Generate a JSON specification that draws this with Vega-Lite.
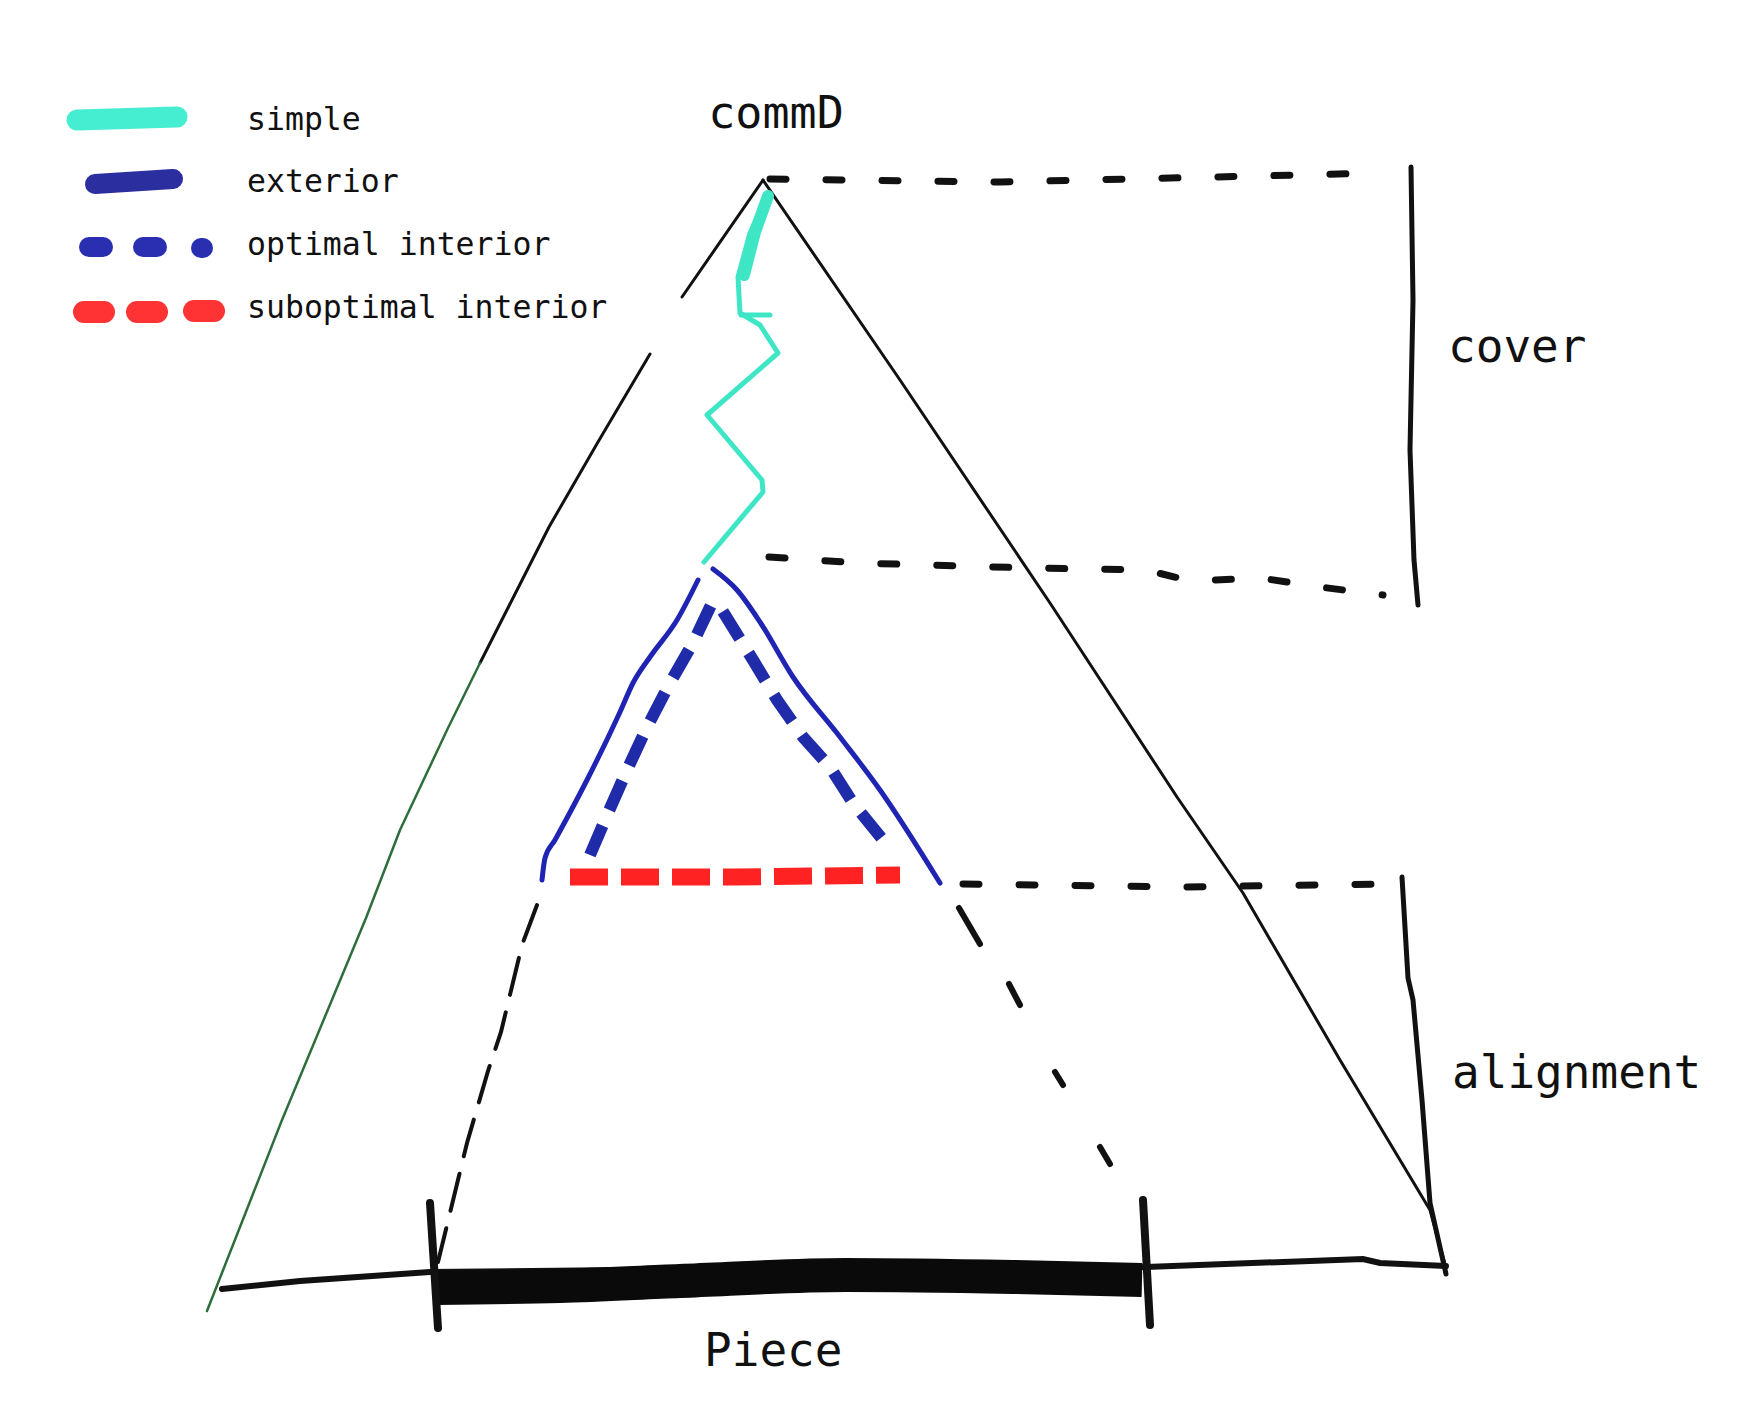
{
  "$schema": "https://vega.github.io/schema/vega-lite/v6.json",
  "width": 1747,
  "height": 1401,
  "autosize": {"type": "fit", "contains": "padding"},
  "padding": 0,
  "background": "white",
  "config": {"view": {"stroke": null}},
  "datasets": {
    "thin": [
      {"s": "left_upper", "i": 0, "x": 763, "y": 180},
      {"s": "left_upper", "i": 1, "x": 682, "y": 297},
      {"s": "left_mid", "i": 0, "x": 650, "y": 354},
      {"s": "left_mid", "i": 1, "x": 598, "y": 442},
      {"s": "left_mid", "i": 2, "x": 549, "y": 527},
      {"s": "left_mid", "i": 3, "x": 480, "y": 663},
      {"s": "right", "i": 0, "x": 763, "y": 180},
      {"s": "right", "i": 1, "x": 900, "y": 380},
      {"s": "right", "i": 2, "x": 1050, "y": 603},
      {"s": "right", "i": 3, "x": 1177, "y": 797},
      {"s": "right", "i": 4, "x": 1243, "y": 893},
      {"s": "right", "i": 5, "x": 1340, "y": 1060},
      {"s": "right", "i": 6, "x": 1430, "y": 1210},
      {"s": "right", "i": 7, "x": 1446, "y": 1268}
    ],
    "green": [
      {"s": "left_low", "i": 0, "x": 480, "y": 663},
      {"s": "left_low", "i": 1, "x": 448, "y": 728},
      {"s": "left_low", "i": 2, "x": 400, "y": 830},
      {"s": "left_low", "i": 3, "x": 366, "y": 918},
      {"s": "left_low", "i": 4, "x": 282, "y": 1120},
      {"s": "left_low", "i": 5, "x": 207, "y": 1311}
    ],
    "bottom": [
      {"s": "b", "i": 0, "x": 222, "y": 1289},
      {"s": "b", "i": 1, "x": 300, "y": 1281},
      {"s": "b", "i": 2, "x": 430, "y": 1272},
      {"s": "b", "i": 3, "x": 800, "y": 1268},
      {"s": "b", "i": 4, "x": 1146, "y": 1267},
      {"s": "b", "i": 5, "x": 1363, "y": 1259},
      {"s": "b", "i": 6, "x": 1380, "y": 1263},
      {"s": "b", "i": 7, "x": 1446, "y": 1266}
    ],
    "piece": [
      {"s": "p", "i": 0, "x": 436, "y": 1288},
      {"s": "p", "i": 1, "x": 560, "y": 1286},
      {"s": "p", "i": 2, "x": 680, "y": 1281},
      {"s": "p", "i": 3, "x": 846, "y": 1275},
      {"s": "p", "i": 4, "x": 1013, "y": 1277},
      {"s": "p", "i": 5, "x": 1142, "y": 1280}
    ],
    "ticks": [
      {"s": "tl", "i": 0, "x": 430, "y": 1203},
      {"s": "tl", "i": 1, "x": 438, "y": 1328},
      {"s": "tr", "i": 0, "x": 1143, "y": 1200},
      {"s": "tr", "i": 1, "x": 1150, "y": 1325}
    ],
    "brackets": [
      {"s": "cover", "i": 0, "x": 1411, "y": 167},
      {"s": "cover", "i": 1, "x": 1413, "y": 300},
      {"s": "cover", "i": 2, "x": 1410, "y": 450},
      {"s": "cover", "i": 3, "x": 1414, "y": 560},
      {"s": "cover", "i": 4, "x": 1418, "y": 605},
      {"s": "align", "i": 0, "x": 1402, "y": 877},
      {"s": "align", "i": 1, "x": 1408, "y": 978},
      {"s": "align", "i": 2, "x": 1413, "y": 1000},
      {"s": "align", "i": 3, "x": 1422, "y": 1100},
      {"s": "align", "i": 4, "x": 1430, "y": 1203},
      {"s": "align", "i": 5, "x": 1446, "y": 1274}
    ],
    "dash_h": [
      {"s": "top", "i": 0, "x": 770, "y": 179},
      {"s": "top", "i": 1, "x": 1000, "y": 182},
      {"s": "top", "i": 2, "x": 1383, "y": 173},
      {"s": "mid", "i": 0, "x": 769, "y": 557},
      {"s": "mid", "i": 1, "x": 859, "y": 563},
      {"s": "mid", "i": 2, "x": 1031, "y": 568},
      {"s": "mid", "i": 3, "x": 1146, "y": 570},
      {"s": "mid", "i": 4, "x": 1191, "y": 581},
      {"s": "mid", "i": 5, "x": 1261, "y": 578},
      {"s": "mid", "i": 6, "x": 1312, "y": 586},
      {"s": "mid", "i": 7, "x": 1383, "y": 595},
      {"s": "low", "i": 0, "x": 963, "y": 884},
      {"s": "low", "i": 1, "x": 1180, "y": 887},
      {"s": "low", "i": 2, "x": 1384, "y": 884}
    ],
    "dash_l": [
      {"s": "dl", "i": 0, "x": 537, "y": 905},
      {"s": "dl", "i": 1, "x": 522, "y": 945},
      {"s": "dl", "i": 2, "x": 501, "y": 1032},
      {"s": "dl", "i": 3, "x": 488, "y": 1071},
      {"s": "dl", "i": 4, "x": 467, "y": 1143},
      {"s": "dl", "i": 5, "x": 438, "y": 1262}
    ],
    "dash_r": [
      {"s": "d1", "i": 0, "x": 959, "y": 908},
      {"s": "d1", "i": 1, "x": 980, "y": 944},
      {"s": "d2", "i": 0, "x": 1009, "y": 984},
      {"s": "d2", "i": 1, "x": 1020, "y": 1005},
      {"s": "d3", "i": 0, "x": 1055, "y": 1072},
      {"s": "d3", "i": 1, "x": 1063, "y": 1085},
      {"s": "d4", "i": 0, "x": 1100, "y": 1147},
      {"s": "d4", "i": 1, "x": 1110, "y": 1164}
    ],
    "cyan_thick": [
      {"s": "ct", "i": 0, "x": 768, "y": 196},
      {"s": "ct", "i": 1, "x": 755, "y": 232},
      {"s": "ct", "i": 2, "x": 744, "y": 275}
    ],
    "cyan": [
      {"s": "c", "i": 0, "x": 767, "y": 197},
      {"s": "c", "i": 1, "x": 750, "y": 233},
      {"s": "c", "i": 2, "x": 738, "y": 277},
      {"s": "c", "i": 3, "x": 740, "y": 313},
      {"s": "c", "i": 4, "x": 760, "y": 325},
      {"s": "c", "i": 5, "x": 778, "y": 353},
      {"s": "c", "i": 6, "x": 707, "y": 415},
      {"s": "c", "i": 7, "x": 762, "y": 480},
      {"s": "c", "i": 8, "x": 763, "y": 492},
      {"s": "c", "i": 9, "x": 704, "y": 562},
      {"s": "stub", "i": 0, "x": 741, "y": 315},
      {"s": "stub", "i": 1, "x": 770, "y": 315}
    ],
    "ext": [
      {"s": "l", "i": 0, "x": 542, "y": 880},
      {"s": "l", "i": 1, "x": 545, "y": 858},
      {"s": "l", "i": 2, "x": 555, "y": 840},
      {"s": "l", "i": 3, "x": 587, "y": 780},
      {"s": "l", "i": 4, "x": 620, "y": 712},
      {"s": "l", "i": 5, "x": 633, "y": 683},
      {"s": "l", "i": 6, "x": 650, "y": 657},
      {"s": "l", "i": 7, "x": 677, "y": 620},
      {"s": "l", "i": 8, "x": 698, "y": 580},
      {"s": "r", "i": 0, "x": 713, "y": 569},
      {"s": "r", "i": 1, "x": 737, "y": 590},
      {"s": "r", "i": 2, "x": 760, "y": 622},
      {"s": "r", "i": 3, "x": 793, "y": 677},
      {"s": "r", "i": 4, "x": 840, "y": 737},
      {"s": "r", "i": 5, "x": 880, "y": 790},
      {"s": "r", "i": 6, "x": 940, "y": 883}
    ],
    "opt": [
      {"s": "o", "i": 0, "x": 590, "y": 855},
      {"s": "o", "i": 1, "x": 608, "y": 813},
      {"s": "o", "i": 2, "x": 627, "y": 770},
      {"s": "o", "i": 3, "x": 647, "y": 727},
      {"s": "o", "i": 4, "x": 670, "y": 683},
      {"s": "o", "i": 5, "x": 693, "y": 643},
      {"s": "o", "i": 6, "x": 712, "y": 603},
      {"s": "o", "i": 7, "x": 722, "y": 610},
      {"s": "o", "i": 8, "x": 753, "y": 660},
      {"s": "o", "i": 9, "x": 777, "y": 700},
      {"s": "o", "i": 10, "x": 803, "y": 737},
      {"s": "o", "i": 11, "x": 830, "y": 767},
      {"s": "o", "i": 12, "x": 853, "y": 803},
      {"s": "o", "i": 13, "x": 887, "y": 845}
    ],
    "sub": [
      {"s": "r", "i": 0, "x": 570, "y": 877},
      {"s": "r", "i": 1, "x": 735, "y": 877},
      {"s": "r", "i": 2, "x": 900, "y": 875}
    ],
    "leg_simple": [
      {"s": "a", "i": 0, "x": 77, "y": 120},
      {"s": "a", "i": 1, "x": 177, "y": 117}
    ],
    "leg_ext": [
      {"s": "a", "i": 0, "x": 95, "y": 184},
      {"s": "a", "i": 1, "x": 173, "y": 179}
    ],
    "leg_opt": [
      {"s": "a", "i": 0, "x": 89, "y": 247},
      {"s": "a", "i": 1, "x": 103, "y": 247},
      {"s": "b", "i": 0, "x": 143, "y": 247},
      {"s": "b", "i": 1, "x": 157, "y": 247},
      {"s": "c", "i": 0, "x": 201, "y": 248},
      {"s": "c", "i": 1, "x": 203, "y": 248}
    ],
    "leg_sub": [
      {"s": "a", "i": 0, "x": 84, "y": 312},
      {"s": "a", "i": 1, "x": 104, "y": 312},
      {"s": "b", "i": 0, "x": 137, "y": 312},
      {"s": "b", "i": 1, "x": 157, "y": 312},
      {"s": "c", "i": 0, "x": 194, "y": 311},
      {"s": "c", "i": 1, "x": 214, "y": 311}
    ],
    "leg_labels": [
      {"t": "simple", "x": 247, "y": 130},
      {"t": "exterior", "x": 247, "y": 192},
      {"t": "optimal interior", "x": 247, "y": 255},
      {"t": "suboptimal interior", "x": 247, "y": 318}
    ],
    "big_labels": [
      {"t": "cover", "x": 1448, "y": 362},
      {"t": "alignment", "x": 1452, "y": 1088},
      {"t": "Piece", "x": 704, "y": 1366}
    ],
    "title_label": [
      {"t": "commD", "x": 776, "y": 128}
    ]
  },
  "encoding": {
    "x": {"field": "x", "type": "quantitative", "scale": {"domain": [0, 1747], "nice": false, "zero": false}, "axis": null},
    "y": {"field": "y", "type": "quantitative", "scale": {"domain": [0, 1401], "nice": false, "zero": false, "reverse": true}, "axis": null}
  },
  "layer": [
    {"data": {"name": "thin"}, "mark": {"type": "line", "color": "#111111", "strokeWidth": 3, "strokeCap": "round", "strokeJoin": "round"}, "encoding": {"detail": {"field": "s"}, "order": {"field": "i", "type": "quantitative"}}},
    {"data": {"name": "green"}, "mark": {"type": "line", "color": "#2f6e3c", "strokeWidth": 2.5, "strokeCap": "round", "strokeJoin": "round"}, "encoding": {"detail": {"field": "s"}, "order": {"field": "i", "type": "quantitative"}}},
    {"data": {"name": "bottom"}, "mark": {"type": "line", "color": "#111111", "strokeWidth": 6, "strokeCap": "round"}, "encoding": {"detail": {"field": "s"}, "order": {"field": "i", "type": "quantitative"}}},
    {"data": {"name": "piece"}, "mark": {"type": "line", "color": "#0a0a0a", "strokeWidth": 34, "strokeCap": "butt", "interpolate": "monotone"}, "encoding": {"detail": {"field": "s"}, "order": {"field": "i", "type": "quantitative"}}},
    {"data": {"name": "ticks"}, "mark": {"type": "line", "color": "#111111", "strokeWidth": 8, "strokeCap": "round"}, "encoding": {"detail": {"field": "s"}, "order": {"field": "i", "type": "quantitative"}}},
    {"data": {"name": "brackets"}, "mark": {"type": "line", "color": "#111111", "strokeWidth": 5, "strokeCap": "round"}, "encoding": {"detail": {"field": "s"}, "order": {"field": "i", "type": "quantitative"}}},
    {"data": {"name": "dash_h"}, "mark": {"type": "line", "color": "#111111", "strokeWidth": 7, "strokeCap": "round", "strokeDash": [16, 40]}, "encoding": {"detail": {"field": "s"}, "order": {"field": "i", "type": "quantitative"}}},
    {"data": {"name": "dash_l"}, "mark": {"type": "line", "color": "#111111", "strokeWidth": 4, "strokeCap": "round", "strokeDash": [38, 18]}, "encoding": {"detail": {"field": "s"}, "order": {"field": "i", "type": "quantitative"}}},
    {"data": {"name": "dash_r"}, "mark": {"type": "line", "color": "#111111", "strokeWidth": 6, "strokeCap": "round"}, "encoding": {"detail": {"field": "s"}, "order": {"field": "i", "type": "quantitative"}}},
    {"data": {"name": "cyan_thick"}, "mark": {"type": "line", "color": "#3ee6c6", "strokeWidth": 12, "strokeCap": "round"}, "encoding": {"detail": {"field": "s"}, "order": {"field": "i", "type": "quantitative"}}},
    {"data": {"name": "cyan"}, "mark": {"type": "line", "color": "#3ee6c6", "strokeWidth": 5, "strokeCap": "round", "strokeJoin": "round"}, "encoding": {"detail": {"field": "s"}, "order": {"field": "i", "type": "quantitative"}}},
    {"data": {"name": "ext"}, "mark": {"type": "line", "color": "#1f24b2", "strokeWidth": 5, "strokeCap": "round", "interpolate": "monotone"}, "encoding": {"detail": {"field": "s"}, "order": {"field": "i", "type": "quantitative"}}},
    {"data": {"name": "opt"}, "mark": {"type": "line", "color": "#1f2ba8", "strokeWidth": 12, "strokeCap": "butt", "strokeDash": [32, 17]}, "encoding": {"detail": {"field": "s"}, "order": {"field": "i", "type": "quantitative"}}},
    {"data": {"name": "sub"}, "mark": {"type": "line", "color": "#ff2222", "strokeWidth": 17, "strokeCap": "butt", "strokeDash": [38, 13]}, "encoding": {"detail": {"field": "s"}, "order": {"field": "i", "type": "quantitative"}}},
    {"data": {"name": "leg_simple"}, "mark": {"type": "line", "color": "#45eed0", "strokeWidth": 21, "strokeCap": "round"}, "encoding": {"detail": {"field": "s"}, "order": {"field": "i", "type": "quantitative"}}},
    {"data": {"name": "leg_ext"}, "mark": {"type": "line", "color": "#2b2e9e", "strokeWidth": 20, "strokeCap": "round"}, "encoding": {"detail": {"field": "s"}, "order": {"field": "i", "type": "quantitative"}}},
    {"data": {"name": "leg_opt"}, "mark": {"type": "line", "color": "#2a2eb0", "strokeWidth": 20, "strokeCap": "round"}, "encoding": {"detail": {"field": "s"}, "order": {"field": "i", "type": "quantitative"}}},
    {"data": {"name": "leg_sub"}, "mark": {"type": "line", "color": "#ff3333", "strokeWidth": 22, "strokeCap": "round"}, "encoding": {"detail": {"field": "s"}, "order": {"field": "i", "type": "quantitative"}}},
    {"data": {"name": "leg_labels"}, "mark": {"type": "text", "font": "DejaVu Sans Mono", "fontSize": 31.5, "align": "left", "baseline": "alphabetic", "color": "#111111"}, "encoding": {"text": {"field": "t"}}},
    {"data": {"name": "big_labels"}, "mark": {"type": "text", "font": "DejaVu Sans Mono", "fontSize": 46, "align": "left", "baseline": "alphabetic", "color": "#111111"}, "encoding": {"text": {"field": "t"}}},
    {"data": {"name": "title_label"}, "mark": {"type": "text", "font": "DejaVu Sans Mono", "fontSize": 45, "align": "center", "baseline": "alphabetic", "color": "#111111"}, "encoding": {"text": {"field": "t"}}}
  ]
}
